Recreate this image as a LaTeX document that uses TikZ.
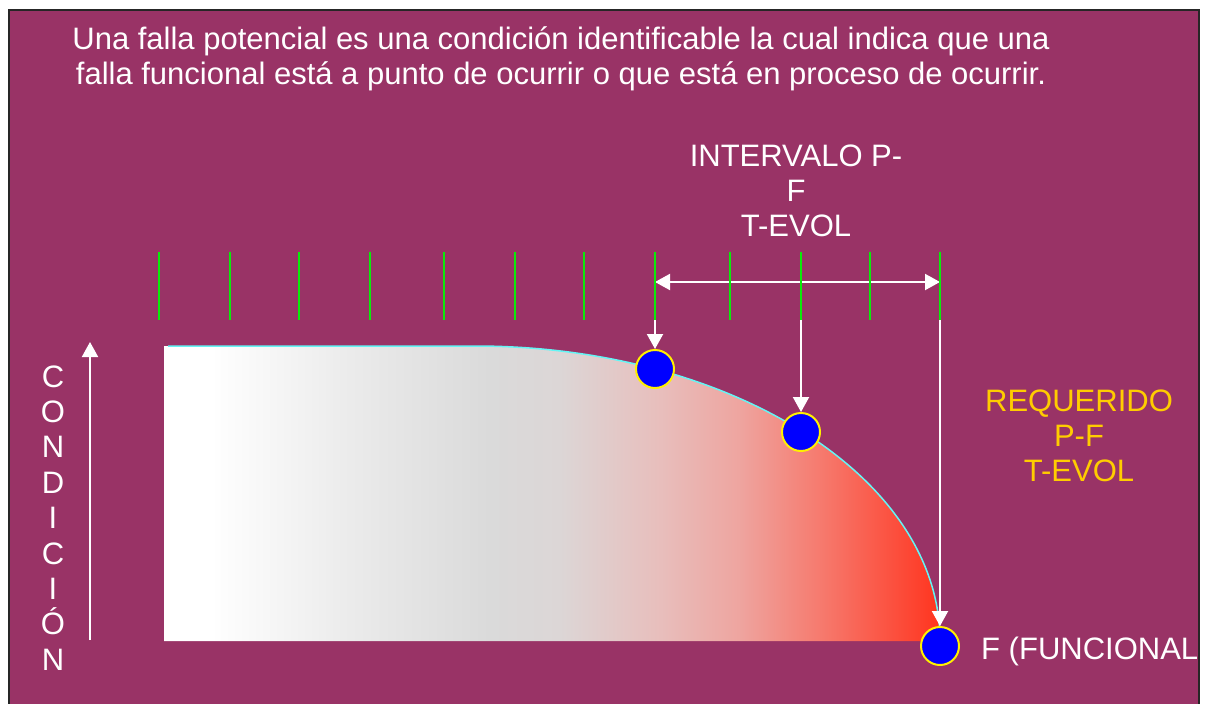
\documentclass[tikz,border=0pt]{standalone}
\usepackage{fontspec}
\setmainfont{Liberation Sans}
\usepackage{tikz}
\usetikzlibrary{arrows.meta}
\definecolor{corFondo}{RGB}{153, 51, 102}
\definecolor{corVerde}{RGB}{10, 235, 10}
\definecolor{corCian}{RGB}{100, 245, 245}
\definecolor{corOuro}{RGB}{255, 204, 0}
\definecolor{corAzul}{RGB}{0, 0, 255}
\definecolor{corAmarela}{RGB}{255, 240, 0}
\definecolor{grad1}{RGB}{235, 235, 235}
\definecolor{grad2}{RGB}{218, 218, 218}
\definecolor{grad3}{RGB}{220, 214, 214}
\definecolor{grad4}{RGB}{232, 190, 188}
\definecolor{grad5}{RGB}{238, 165, 160}
\definecolor{grad6}{RGB}{246, 122, 110}
\definecolor{grad7}{RGB}{252, 76, 58}
\definecolor{grad8}{RGB}{255, 52, 30}
\pgfdeclarehorizontalshading{degradeCond}{100bp}{color(0bp)=(white); color(25bp)=(white);
  color(28bp)=(white); color(37bp)=(grad1); color(46bp)=(grad2); color(50.5bp)=(grad3);
  color(57bp)=(grad4); color(62bp)=(grad5); color(67.3bp)=(grad6); color(72.4bp)=(grad7);
  color(75bp)=(grad8); color(100bp)=(grad8)}

\begin{document}
\begin{tikzpicture}[
    x=1pt, y=-1pt,
    punto/.style={circle, draw=corAmarela, fill=corAzul, line width=2pt, minimum size=38pt, inner sep=0pt},
    flecha/.style={draw=white, line width=2pt, -{Triangle[width=16pt, length=15pt]}},
    flechaDoble/.style={draw=white, line width=2pt, {Triangle[width=16pt, length=15pt]}-{Triangle[width=16pt, length=15pt]}},
    marca/.style={draw=corVerde, line width=2.3pt},
    texto/.style={text=white, inner sep=0pt, align=center, font=\fontsize{31}{35}\selectfont}
]
\useasboundingbox (0,0) rectangle (1210,704);
\fill[corFondo] (9,10) rectangle (1199,720);
\begin{scope}
\clip (9,10) rectangle (1199,720);

\node[texto] (titulo) at (561,59) {Una falla potencial es una condición identificable la cual indica que una\\falla funcional está a punto de ocurrir o que está en proceso de ocurrir.};

% zona de condicion
\shade[shading=degradeCond] (164,346) -- (475,346) .. controls (731.8,346) and (940,478.1) .. (940,641) -- (164,641) -- cycle;
\draw[corCian, line width=1.5pt] (168,346) -- (475,346) .. controls (731.8,346) and (940,478.1) .. (940,641);

% eje vertical
\coordinate (ejeA) at (90,640);
\coordinate (ejeB) at (90,342);
\draw[flecha] (ejeA) -- (ejeB);
\foreach \l [count=\i from 0] in {C,O,N,D,I,C,I,Ó,N}
    \node[texto, anchor=base] (letra\i) at (53,{387+35.4*\i}) {\l};

\node[punto] (pA) at (655,369) {};
\node[punto] (pB) at (801,432) {};
\node[punto] (pF) at (940,646) {};

\coordinate (iniA) at (655,266);
\coordinate (iniB) at (801,320);
\coordinate (iniF) at (940,266);
\coordinate (intIzq) at (655,282);
\coordinate (intDer) at (940,282);

\draw[flecha] (iniA) -- (pA);
\draw[flecha] (iniB) -- (pB);
\draw[flecha] (iniF) -- (pF);
\draw[flechaDoble] (intIzq) -- (intDer);

\foreach \x in {159,230,299,370,444,515,584,655,730,801,870,940}
    \draw[marca] (\x,252) -- (\x,320);

\node[texto] (intervalo) at (796,191) {INTERVALO P-\\F\\T-EVOL};
\node[texto, text=corOuro] (requerido) at (1079,436) {REQUERIDO\\P-F\\T-EVOL};
\node[texto, anchor=base west] (funcional) at (981,659) {F (FUNCIONAL)};
\end{scope}
\draw[black!85, line width=2pt] (9,10) rectangle (1199,720);
\end{tikzpicture}
\end{document}
